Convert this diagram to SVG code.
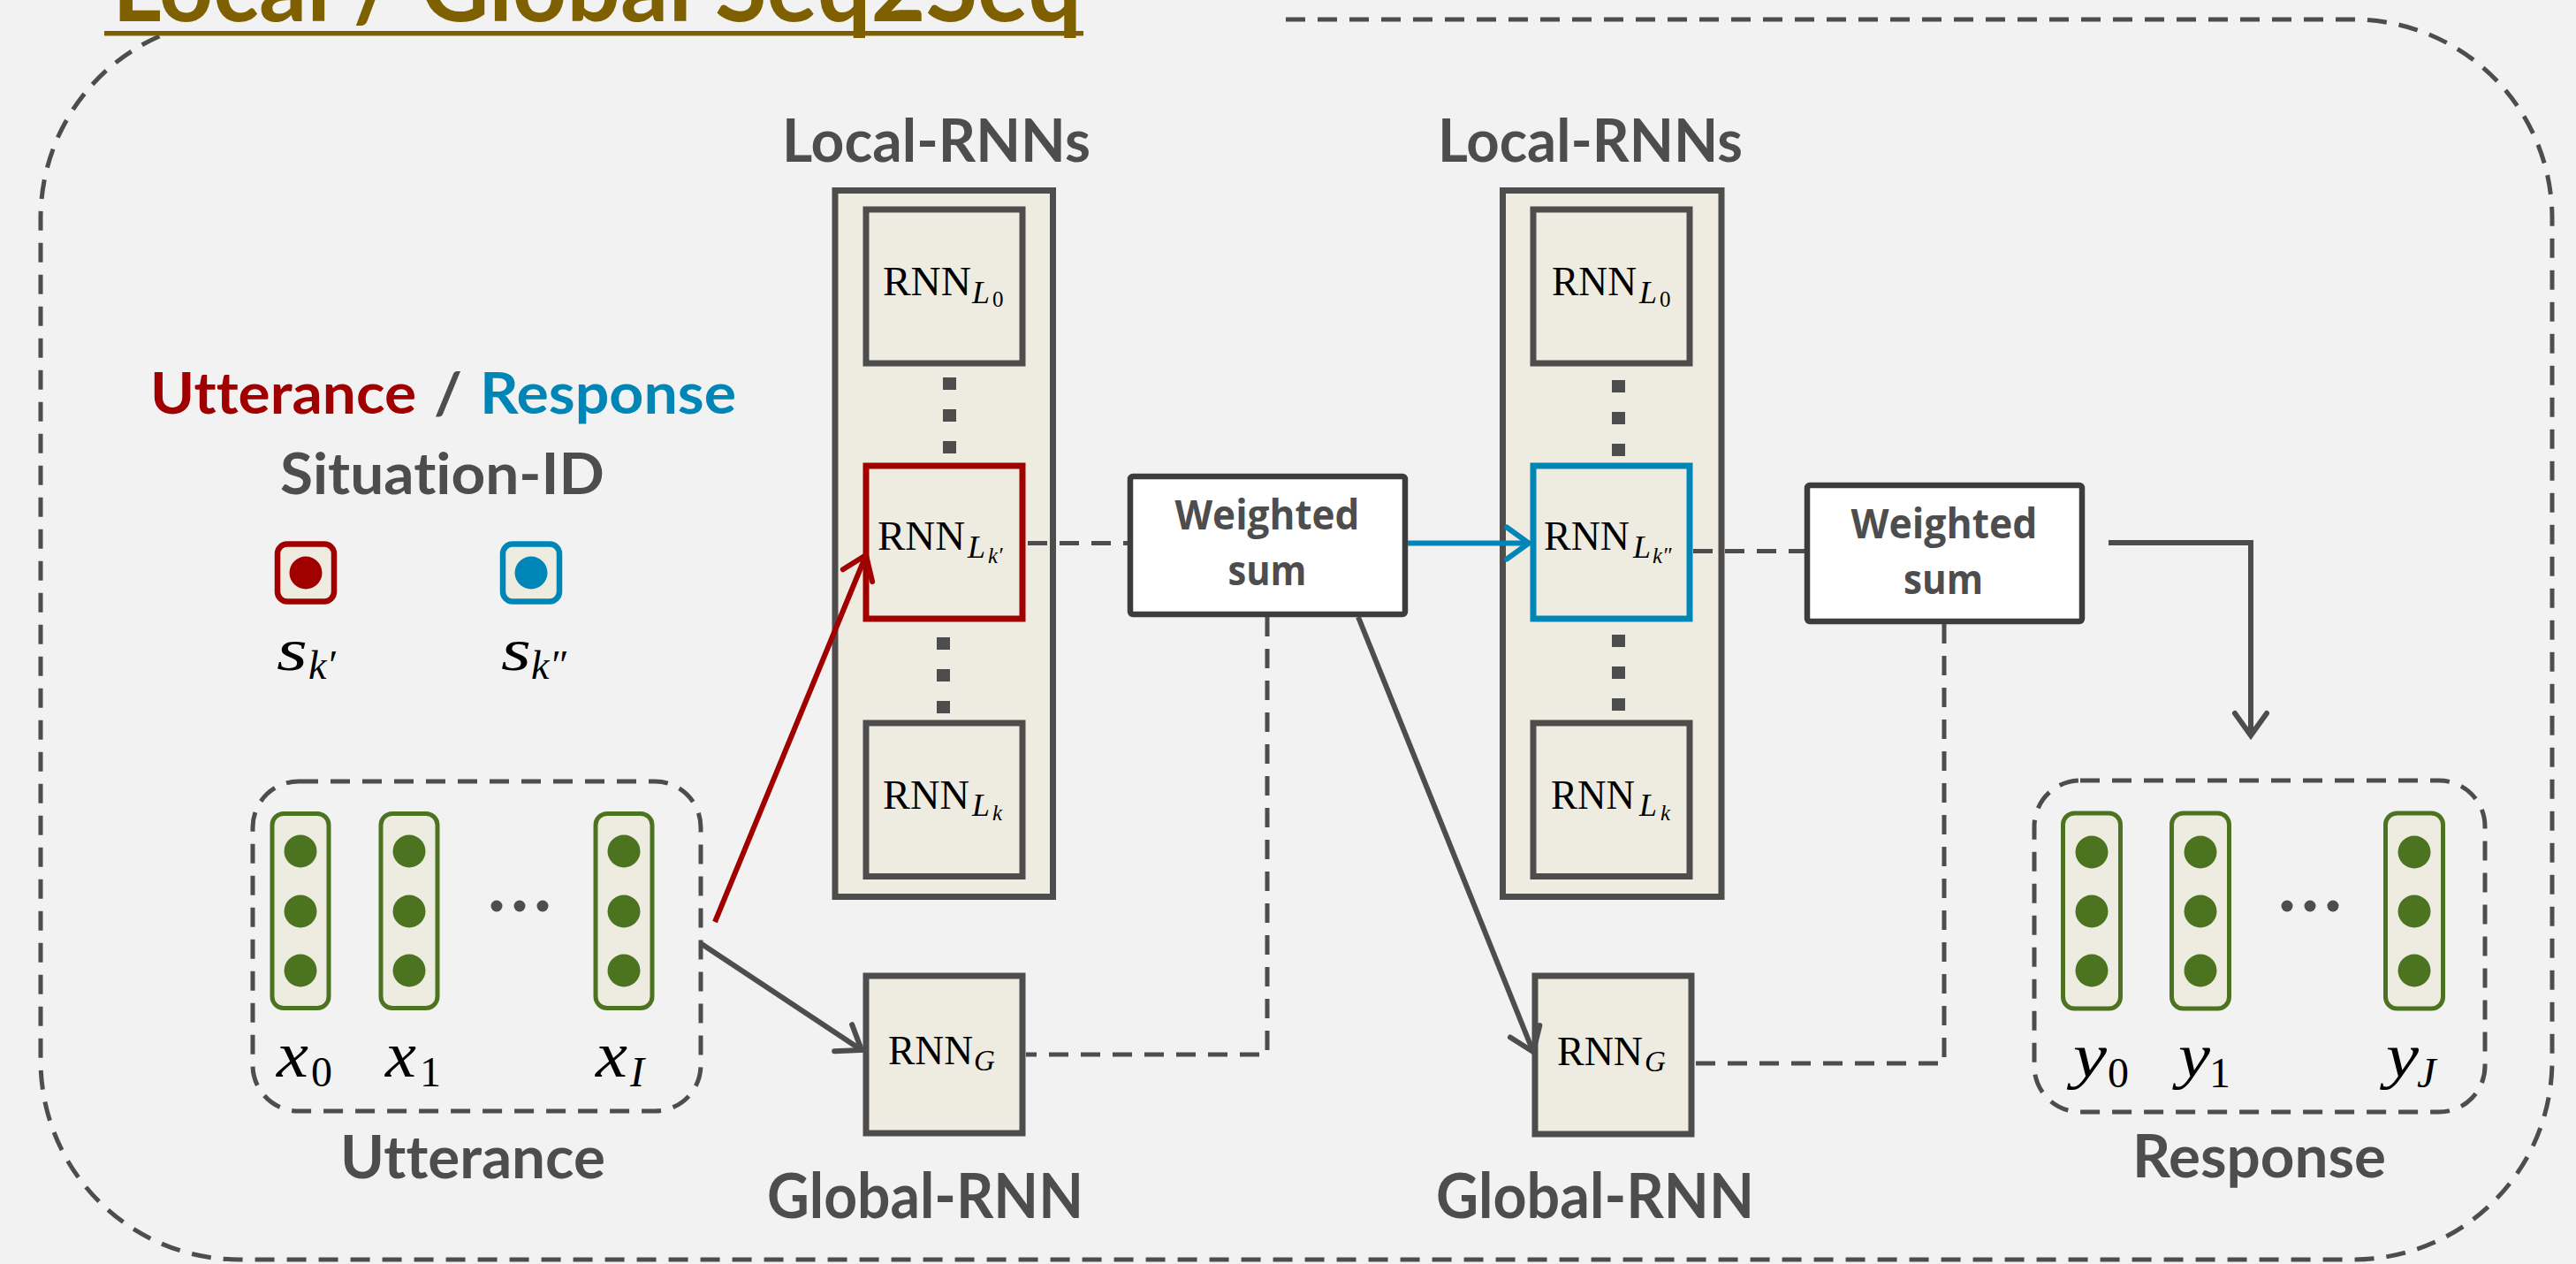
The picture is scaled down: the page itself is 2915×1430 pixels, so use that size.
<svg xmlns="http://www.w3.org/2000/svg" width="2915" height="1430" viewBox="0 0 2915 1430">
  <defs>
    <style>
      text { font-variant-ligatures: none; font-feature-settings: "liga" 0, "clig" 0; }
      .lbl { font-family: Lato, "Open Sans", "Liberation Sans", sans-serif; font-weight: 700; fill: #4d4d4d; }
      .ws { font-family: "Open Sans", Lato, "Liberation Sans", sans-serif; font-weight: 700; fill: #4d4d4d; font-size: 47px; text-anchor: middle; }
      .rm { font-family: "Liberation Serif", "DejaVu Serif", serif; fill: #000; }
      .mi { font-family: "Liberation Serif", "DejaVu Serif", serif; font-style: italic; fill: #000; }
      .stack { fill: #eeece1; stroke: #4d4d4d; stroke-width: 7; }
      .cell { fill: #eeece1; stroke: #4d4d4d; stroke-width: 7; }
      .wsum { fill: #ffffff; stroke: #3c3c3c; stroke-width: 6.5; }
      .vec { fill: #eeece1; stroke: #4c7420; stroke-width: 5; }
      .unit { fill: #4c7420; }
      .ell { fill: #4d4d4d; }
      .sq { fill: #4d4d4d; }
      .dash { fill: none; stroke: #4d4d4d; stroke-width: 5; stroke-dasharray: 22 14; }
      .link { fill: none; stroke: #4d4d4d; stroke-width: 6; }
    </style>
    <marker id="head-gray" markerUnits="userSpaceOnUse" viewBox="-34 -26 40 52" refX="0" refY="0" markerWidth="40" markerHeight="52" orient="auto" overflow="visible">
      <path d="M-25,-18 L0,0 L-25,18" fill="none" stroke="#4d4d4d" stroke-width="6" stroke-linecap="round"/>
    </marker>
    <marker id="head-red" markerUnits="userSpaceOnUse" viewBox="-34 -26 40 52" refX="0" refY="0" markerWidth="40" markerHeight="52" orient="auto" overflow="visible">
      <path d="M-25,-18 L0,0 L-25,18" fill="none" stroke="#a00000" stroke-width="6" stroke-linecap="round"/>
    </marker>
    <marker id="head-blue" markerUnits="userSpaceOnUse" viewBox="-34 -26 40 52" refX="0" refY="0" markerWidth="40" markerHeight="52" orient="auto" overflow="visible">
      <path d="M-25,-18 L0,0 L-25,18" fill="none" stroke="#0086b6" stroke-width="6" stroke-linecap="round"/>
    </marker>
  </defs>

  <!-- page background -->
  <rect x="0" y="0" width="2915" height="1430" fill="#f2f2f2"/>

  <!-- outer frame (open at the top-left where the heading sits) -->
  <path class="dash" d="M1455,22 L2663,22 A225,225 0 0 1 2888,247 L2888,1200 A225,225 0 0 1 2663,1425 L271,1425 A225,225 0 0 1 46,1200 L46,247 A225,225 0 0 1 185,39"/>

  <!-- heading, running off the top edge -->
  <g id="title">
    <text x="127" y="24" font-family="Lato, 'Open Sans', 'Liberation Sans', sans-serif" font-weight="700" font-size="112" fill="#7f6000" textLength="1097" lengthAdjust="spacingAndGlyphs">Local / Global Seq2Seq</text>
    <rect x="118" y="35" width="1108" height="5.5" fill="#7f6000"/>
  </g>

  <!-- legend: situation ids -->
  <g id="legend">
    <text class="lbl" x="170" y="468" font-size="65" style="fill:#a00000" textLength="301" lengthAdjust="spacingAndGlyphs">Utterance</text>
    <text class="lbl" x="491" y="468" font-size="65" textLength="32" lengthAdjust="spacingAndGlyphs">/</text>
    <text class="lbl" x="543" y="468" font-size="65" style="fill:#0086b6" textLength="290" lengthAdjust="spacingAndGlyphs">Response</text>
    <text class="lbl" x="317" y="559" font-size="65" textLength="367" lengthAdjust="spacingAndGlyphs">Situation-ID</text>
  </g>
  <g id="sid-utterance">
    <rect x="314" y="615.5" width="64" height="65" rx="11" fill="#eeece1" stroke="#a00000" stroke-width="6.5"/>
    <circle cx="346" cy="648" r="18.5" fill="#a00000"/>
    <text class="mi" x="313" y="758" font-size="68" textLength="35" lengthAdjust="spacingAndGlyphs">s</text>
    <text class="mi" x="349" y="768" font-size="46">k′</text>
  </g>
  <g id="sid-response">
    <rect x="569" y="615.5" width="64" height="65" rx="11" fill="#eeece1" stroke="#0086b6" stroke-width="6.5"/>
    <circle cx="601" cy="648" r="18.5" fill="#0086b6"/>
    <text class="mi" x="567" y="758" font-size="68" textLength="34" lengthAdjust="spacingAndGlyphs">s</text>
    <text class="mi" x="601" y="768" font-size="46">k″</text>
  </g>

  <!-- input utterance x_0 .. x_I -->
  <g id="utterance">
    <rect class="dash" x="286" y="884" width="507" height="373" rx="52"/>
    <rect class="vec" x="308" y="920.5" width="64" height="220" rx="13"/>
    <circle class="unit" cx="340" cy="963" r="18.5"/>
    <circle class="unit" cx="340" cy="1031" r="18.5"/>
    <circle class="unit" cx="340" cy="1098" r="18.5"/>
    <rect class="vec" x="431" y="920.5" width="64" height="220" rx="13"/>
    <circle class="unit" cx="463" cy="963" r="18.5"/>
    <circle class="unit" cx="463" cy="1031" r="18.5"/>
    <circle class="unit" cx="463" cy="1098" r="18.5"/>
    <circle class="ell" cx="562" cy="1025" r="6.5"/>
    <circle class="ell" cx="588" cy="1025" r="6.5"/>
    <circle class="ell" cx="614" cy="1025" r="6.5"/>
    <rect class="vec" x="674" y="920.5" width="64" height="220" rx="13"/>
    <circle class="unit" cx="706" cy="963" r="18.5"/>
    <circle class="unit" cx="706" cy="1031" r="18.5"/>
    <circle class="unit" cx="706" cy="1098" r="18.5"/>
    <text class="mi" x="313" y="1218" font-size="74" textLength="36" lengthAdjust="spacingAndGlyphs">x</text>
    <text class="rm" x="352" y="1229" font-size="48">0</text>
    <text class="mi" x="436" y="1218" font-size="74" textLength="35" lengthAdjust="spacingAndGlyphs">x</text>
    <text class="rm" x="475" y="1229" font-size="48">1</text>
    <text class="mi" x="674" y="1218" font-size="74" textLength="36" lengthAdjust="spacingAndGlyphs">x</text>
    <text class="mi" x="713" y="1229" font-size="48">I</text>
    <text class="lbl" x="385" y="1333" font-size="66" textLength="300" lengthAdjust="spacingAndGlyphs">Utterance</text>
  </g>

  <!-- first local stack -->
  <g id="local-rnns-1">
    <text class="lbl" x="885" y="183" font-size="67" textLength="349" lengthAdjust="spacingAndGlyphs">Local-RNNs</text>
    <rect class="stack" x="945" y="215.5" width="246.5" height="799"/>
    <rect class="cell" x="980" y="237" width="177" height="174"/>
    <text class="rm" x="999" y="334" font-size="46" textLength="100" lengthAdjust="spacingAndGlyphs">RNN</text>
    <text class="mi" x="1100" y="343" font-size="36">L</text>
    <text class="rm" x="1123" y="347" font-size="25">0</text>
    <rect class="sq" x="1067" y="427" width="15" height="14"/>
    <rect class="sq" x="1067" y="463" width="15" height="14"/>
    <rect class="sq" x="1067" y="499" width="15" height="14"/>
    <rect class="sq" x="1060" y="721" width="15" height="14"/>
    <rect class="sq" x="1060" y="757" width="15" height="14"/>
    <rect class="sq" x="1060" y="793" width="15" height="14"/>
    <rect class="cell" x="980" y="818" width="177" height="173.5"/>
    <text class="rm" x="999" y="915" font-size="46" textLength="98" lengthAdjust="spacingAndGlyphs">RNN</text>
    <text class="mi" x="1100" y="923" font-size="36">L</text>
    <text class="mi" x="1123" y="928" font-size="25">k</text>
  </g>
  <g id="rnn-lk1">
    <rect class="cell" x="980" y="527" width="177" height="173" style="stroke:#a00000"/>
    <text class="rm" x="993" y="622" font-size="46" textLength="99" lengthAdjust="spacingAndGlyphs">RNN</text>
    <text class="mi" x="1095" y="631" font-size="36">L</text>
    <text class="mi" x="1118" y="637" font-size="25">k′</text>
  </g>

  <!-- first weighted sum -->
  <g id="wsum-1">
    <rect class="wsum" x="1279" y="539" width="311" height="156" rx="3"/>
    <text class="ws" x="1434" y="599" textLength="209" lengthAdjust="spacingAndGlyphs">Weighted</text>
    <text class="ws" x="1434" y="662" textLength="89" lengthAdjust="spacingAndGlyphs">sum</text>
  </g>

  <!-- first global -->
  <g id="global-rnn-1">
    <rect class="cell" x="980" y="1104" width="177" height="178"/>
    <text class="rm" x="1005" y="1204" font-size="46" textLength="96" lengthAdjust="spacingAndGlyphs">RNN</text>
    <text class="mi" x="1102" y="1211" font-size="33">G</text>
    <text class="lbl" x="868" y="1378" font-size="70" textLength="358" lengthAdjust="spacingAndGlyphs">Global-RNN</text>
  </g>

  <!-- second local stack -->
  <g id="local-rnns-2">
    <text class="lbl" x="1627" y="183" font-size="67" textLength="345" lengthAdjust="spacingAndGlyphs">Local-RNNs</text>
    <rect class="stack" x="1700.5" y="215.5" width="247.5" height="799"/>
    <rect class="cell" x="1735" y="237" width="177" height="174"/>
    <text class="rm" x="1756" y="334" font-size="46" textLength="96" lengthAdjust="spacingAndGlyphs">RNN</text>
    <text class="mi" x="1855" y="343" font-size="36">L</text>
    <text class="rm" x="1878" y="347" font-size="25">0</text>
    <rect class="sq" x="1824" y="430" width="15" height="14"/>
    <rect class="sq" x="1824" y="466" width="15" height="14"/>
    <rect class="sq" x="1824" y="502" width="15" height="14"/>
    <rect class="sq" x="1824" y="718" width="15" height="14"/>
    <rect class="sq" x="1824" y="754" width="15" height="14"/>
    <rect class="sq" x="1824" y="790" width="15" height="14"/>
    <rect class="cell" x="1735" y="818" width="177" height="173.5"/>
    <text class="rm" x="1755" y="915" font-size="46" textLength="95" lengthAdjust="spacingAndGlyphs">RNN</text>
    <text class="mi" x="1855" y="923" font-size="36">L</text>
    <text class="mi" x="1879" y="928" font-size="25">k</text>
  </g>
  <g id="rnn-lk2">
    <rect class="cell" x="1735" y="527" width="177" height="173" style="stroke:#0086b6"/>
    <text class="rm" x="1747" y="622" font-size="46" textLength="97" lengthAdjust="spacingAndGlyphs">RNN</text>
    <text class="mi" x="1848" y="631" font-size="36">L</text>
    <text class="mi" x="1870" y="637" font-size="25">k″</text>
  </g>

  <!-- second weighted sum -->
  <g id="wsum-2">
    <rect class="wsum" x="2045" y="549" width="311" height="154" rx="3"/>
    <text class="ws" x="2200" y="609" textLength="211" lengthAdjust="spacingAndGlyphs">Weighted</text>
    <text class="ws" x="2199" y="672" textLength="90" lengthAdjust="spacingAndGlyphs">sum</text>
  </g>

  <!-- second global -->
  <g id="global-rnn-2">
    <rect class="cell" x="1737" y="1104" width="177" height="179"/>
    <text class="rm" x="1762" y="1205" font-size="46" textLength="97" lengthAdjust="spacingAndGlyphs">RNN</text>
    <text class="mi" x="1861" y="1212" font-size="33">G</text>
    <text class="lbl" x="1625" y="1378" font-size="70" textLength="360" lengthAdjust="spacingAndGlyphs">Global-RNN</text>
  </g>

  <!-- output response y_0 .. y_J -->
  <g id="response">
    <rect class="dash" x="2302" y="883" width="510" height="375" rx="52"/>
    <rect class="vec" x="2334.5" y="920" width="65" height="221" rx="13"/>
    <circle class="unit" cx="2367" cy="964" r="18.5"/>
    <circle class="unit" cx="2367" cy="1031" r="18.5"/>
    <circle class="unit" cx="2367" cy="1098" r="18.5"/>
    <rect class="vec" x="2457.5" y="920" width="65" height="221" rx="13"/>
    <circle class="unit" cx="2490" cy="964" r="18.5"/>
    <circle class="unit" cx="2490" cy="1031" r="18.5"/>
    <circle class="unit" cx="2490" cy="1098" r="18.5"/>
    <circle class="ell" cx="2588" cy="1025" r="6.5"/>
    <circle class="ell" cx="2614" cy="1025" r="6.5"/>
    <circle class="ell" cx="2640" cy="1025" r="6.5"/>
    <rect class="vec" x="2699.5" y="920" width="65" height="221" rx="13"/>
    <circle class="unit" cx="2732" cy="964" r="18.5"/>
    <circle class="unit" cx="2732" cy="1031" r="18.5"/>
    <circle class="unit" cx="2732" cy="1098" r="18.5"/>
    <text class="mi" x="2346" y="1218" font-size="70" textLength="38" lengthAdjust="spacingAndGlyphs">y</text>
    <text class="rm" x="2385" y="1230" font-size="48">0</text>
    <text class="mi" x="2465" y="1218" font-size="70" textLength="36" lengthAdjust="spacingAndGlyphs">y</text>
    <text class="rm" x="2500" y="1230" font-size="48">1</text>
    <text class="mi" x="2700" y="1218" font-size="70" textLength="37" lengthAdjust="spacingAndGlyphs">y</text>
    <text class="mi" x="2735" y="1230" font-size="48">J</text>
    <text class="lbl" x="2413" y="1332" font-size="66" textLength="287" lengthAdjust="spacingAndGlyphs">Response</text>
  </g>

  <!-- connectors -->
  <g id="connectors">
    <line x1="809" y1="1043" x2="980" y2="628" stroke="#a00000" stroke-width="6" marker-end="url(#head-red)"/>
    <line x1="794" y1="1068" x2="975" y2="1188" class="link" marker-end="url(#head-gray)"/>
    <line x1="1593" y1="614.5" x2="1730" y2="614.5" stroke="#0086b6" stroke-width="6" marker-end="url(#head-blue)"/>
    <line x1="1537" y1="698" x2="1735" y2="1190" class="link" marker-end="url(#head-gray)"/>
    <path class="link" d="M2386,614 H2547 V832" marker-end="url(#head-gray)"/>
    <line class="dash" x1="1163" y1="614.5" x2="1276" y2="614.5"/>
    <path class="dash" d="M1434,698 V1193 H1161"/>
    <line class="dash" x1="1916" y1="623.5" x2="2042" y2="623.5"/>
    <path class="dash" d="M2200,706 V1203 H1918"/>
  </g>
</svg>
